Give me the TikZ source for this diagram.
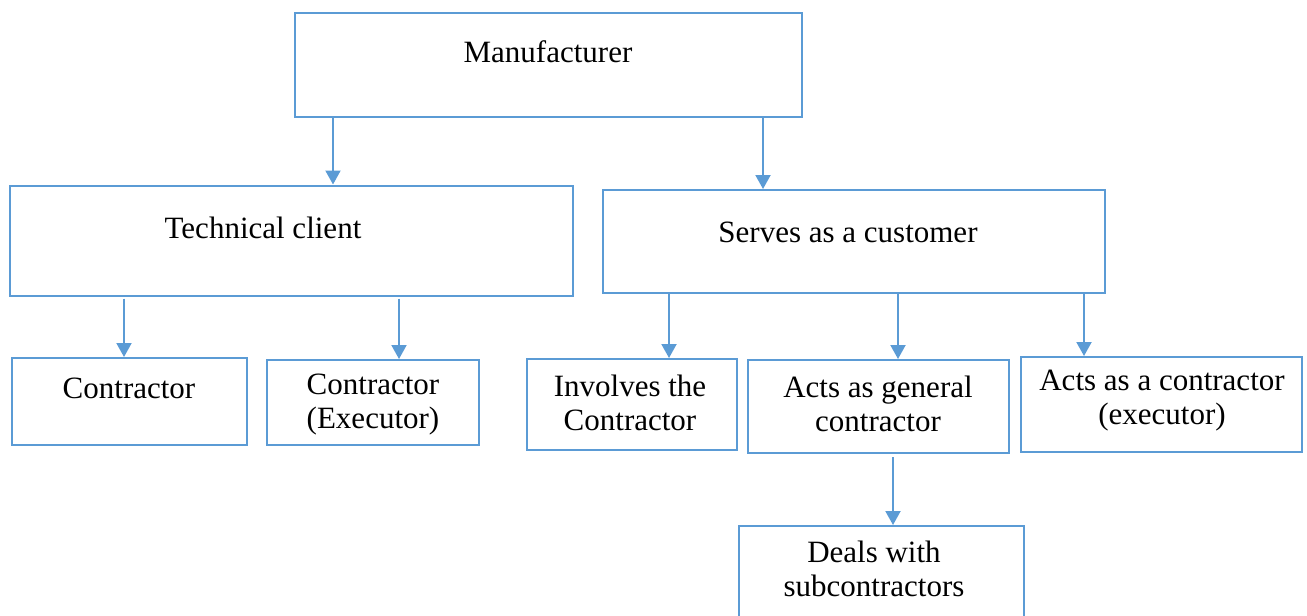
\documentclass[tikz,border=0pt]{standalone}
\usepackage{fontspec}
\setmainfont{Liberation Serif}
\usetikzlibrary{arrows.meta}
\definecolor{lineblue}{RGB}{91,155,213}
\tikzset{
  box/.style={draw=lineblue, line width=2pt, rectangle, inner sep=0pt},
  txt/.style={align=center, inner sep=0pt, font=\fontsize{31}{34}\selectfont},
  arr/.style={draw=lineblue, line width=2pt, -{Triangle[width=15pt,length=14pt]}}
}
\begin{document}
\begin{tikzpicture}[x=1pt,y=-1pt]
\useasboundingbox (0,0) rectangle (1307,616);
\clip (0,0) rectangle (1307,616);
% boxes (centres and sizes in pixels)
\node[box, minimum width=507pt, minimum height=104pt] (man) at (548.5,64.5) {};
\node[box, minimum width=563pt, minimum height=110pt] (tc) at (291.5,240.5) {};
\node[box, minimum width=502pt, minimum height=103pt] (sc) at (854,241.5) {};
\node[box, minimum width=235pt, minimum height=87pt] (c1) at (129.5,401.5) {};
\node[box, minimum width=212pt, minimum height=85pt] (c2) at (373,402.5) {};
\node[box, minimum width=210pt, minimum height=91pt] (inv) at (632,404.5) {};
\node[box, minimum width=261pt, minimum height=93pt] (gen) at (878.5,406.5) {};
\node[box, minimum width=281pt, minimum height=95pt] (exe) at (1161.5,404.5) {};
\node[box, minimum width=285pt, minimum height=130pt] (sub) at (881.5,591) {};
% texts
\node[txt] (mant) at (548,52) {Manufacturer};
\node[txt] (tct) at (263,228) {Technical client};
\node[txt] (sct) at (848,232) {Serves as a customer};
\node[txt] (c1t) at (129,388) {Contractor};
\node[txt] (c2t) at (373,404.5) {Contractor\\(Executor)};
\node[txt] (invt) at (630,403) {Involves the\\Contractor};
\node[txt] (gent) at (878,404) {Acts as general\\contractor};
\node[txt] (exet) at (1162,401) {Acts as a contractor\\(executor)};
\node[txt] (subt) at (874,569) {Deals with\\subcontractors};
% arrow columns
\coordinate (xa) at (333,0);
\coordinate (xb) at (763,0);
\coordinate (xc) at (124,0);
\coordinate (xd) at (399,0);
\coordinate (xe) at (669,0);
\coordinate (xf) at (898,0);
\coordinate (xg) at (1084,0);
\coordinate (xh) at (893,0);
% connectors
\draw[arr] (man.south -| xa) -- (tc.north -| xa);
\draw[arr] (man.south -| xb) -- (sc.north -| xb);
\draw[arr] ([yshift=-2pt]tc.south -| xc) -- (c1.north -| xc);
\draw[arr] ([yshift=-2pt]tc.south -| xd) -- (c2.north -| xd);
\draw[arr] (sc.south -| xe) -- (inv.north -| xe);
\draw[arr] (sc.south -| xf) -- (gen.north -| xf);
\draw[arr] (sc.south -| xg) -- (exe.north -| xg);
\draw[arr] ([yshift=-3pt]gen.south -| xh) -- (sub.north -| xh);
\end{tikzpicture}
\end{document}
